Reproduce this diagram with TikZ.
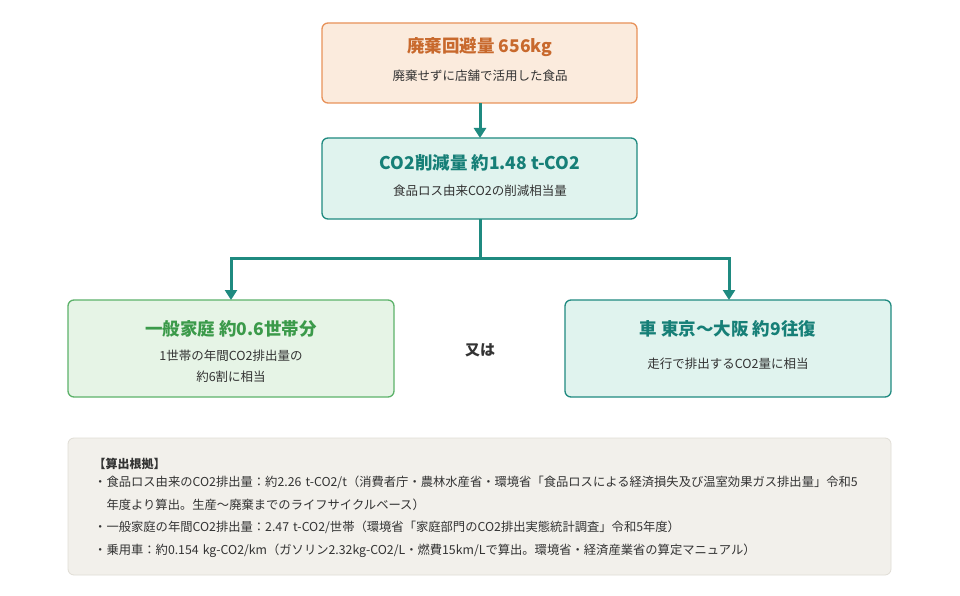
\documentclass[tikz,border=0pt]{standalone}
\usepackage{fontspec}
\setmainfont{Noto Sans CJK JP}
\usetikzlibrary{arrows.meta}
\definecolor{ofill}{HTML}{FBEBDD}\definecolor{oline}{HTML}{E8925A}\definecolor{otext}{HTML}{C8692D}
\definecolor{tfill}{HTML}{E0F3EE}\definecolor{tline}{HTML}{1F8A80}\definecolor{ttext}{HTML}{167F77}
\definecolor{gfill}{HTML}{E6F4E6}\definecolor{gline}{HTML}{5DB26A}\definecolor{gtext}{HTML}{3B9A4A}
\definecolor{pfill}{HTML}{F2F0EB}\definecolor{pline}{HTML}{E0DDD5}\definecolor{body}{HTML}{333333}
\begin{document}
\begin{tikzpicture}[x=1pt,y=-1pt,
 box/.style={draw,line width=1.3pt,rounded corners=6pt},
 ttl/.style={font=\bfseries\fontsize{17.5}{20}\selectfont},
 sub/.style={font=\fontsize{12.5}{21}\selectfont,text=body,align=center},
 arr/.style={draw=tline,line width=3pt,-{Triangle[length=10pt,width=12pt]}}]
\useasboundingbox[fill=white] (0,0) rectangle (960,596);
\draw[box,draw=oline,fill=ofill] (322,23) rectangle (637,103);
\node[ttl,text=otext] (t1) at (480,47) {廃棄回避量 656kg};
\node[sub] (s1) at (480,76) {廃棄せずに店舗で活用した食品};
\draw[box,draw=tline,fill=tfill] (322,138) rectangle (637,219);
\node[ttl,text=ttext] (t2) at (480,163) {CO2削減量 約1.48 t-CO2};
\node[sub] (s2) at (480,191) {食品ロス由来CO2の削減相当量};
\draw[box,draw=gline,fill=gfill] (68,300) rectangle (394,397);
\node[ttl,text=gtext] (t3) at (231,329) {一般家庭 約0.6世帯分};
\node[sub] (s3) at (231,366) {1世帯の年間CO2排出量の\\約6割に相当};
\draw[box,draw=tline,fill=tfill] (565,300) rectangle (891,397);
\node[ttl,text=ttext] (t4) at (728,329) {車 東京〜大阪 約9往復};
\node[sub] (s4) at (728,364) {走行で排出するCO2量に相当};
\node[font=\bfseries\fontsize{15}{17}\selectfont,text=body] (or) at (480,350) {又は};
\coordinate (a1) at (480,103); \coordinate (a2) at (480,138);
\coordinate (b0) at (480,219); \coordinate (b1) at (480,258);
\coordinate (l1) at (231,258); \coordinate (l2) at (231,300);
\coordinate (r1) at (729,258); \coordinate (r2) at (729,300);
\draw[arr] (a1) -- (a2);
\draw[draw=tline,line width=3pt] (b0) -- (b1);
\draw[arr] (b1) -- (l1) -- (l2);
\draw[arr] (b1) -- (r1) -- (r2);
\draw[fill=pfill,draw=pline,line width=0.8pt,rounded corners=6pt] (68,438) rectangle (891,575);
\node[anchor=west,font=\bfseries\fontsize{12}{14}\selectfont,text=body] (n0) at (90,464) {【算出根拠】};
\node[anchor=north west,font=\fontsize{12.3}{22.5}\selectfont,text=body,align=left,text width=820pt,inner sep=0pt] (n1) at (94,476) {・食品ロス由来のCO2排出量：約2.26 t-CO2/t（消費者庁・農林水産省・環境省「食品ロスによる経済損失及び温室効果ガス排出量」令和5\\\hspace*{1em}年度より算出。生産〜廃棄までのライフサイクルベース）\\・一般家庭の年間CO2排出量：2.47 t-CO2/世帯（環境省「家庭部門のCO2排出実態統計調査」令和5年度）\\・乗用車：約0.154 kg-CO2/km（ガソリン2.32kg-CO2/L・燃費15km/Lで算出。環境省・経済産業省の算定マニュアル）};
\end{tikzpicture}
\end{document}
